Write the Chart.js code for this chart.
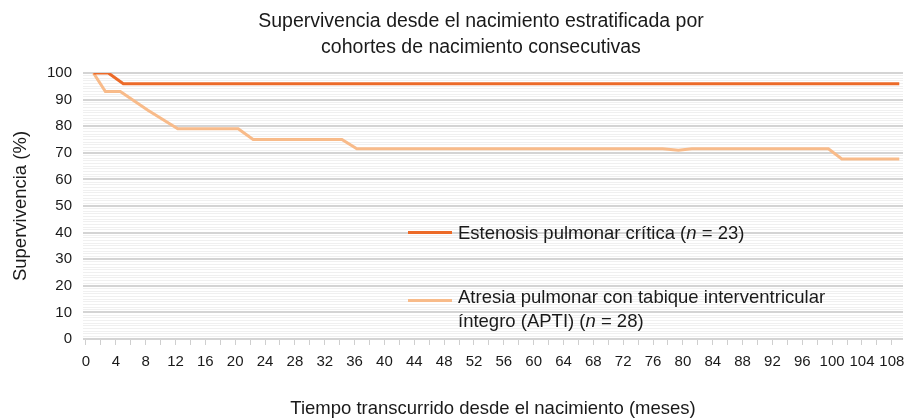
<!DOCTYPE html>
<html>
<head>
<meta charset="utf-8">
<script src="https://cdn.jsdelivr.net/npm/chart.js@4/dist/chart.umd.min.js"></script>
<style>
  html, body { margin: 0; padding: 0; background: #ffffff; }
  #wrap { position: relative; width: 906px; height: 420px; font-family: "Liberation Sans", Arial, Helvetica, sans-serif; color: #1a1a1a; }
  #chart { position: absolute; left: 0; top: 0; }
  #title { position: absolute; left: 181px; width: 600px; top: 7px; text-align: center; font-size: 19.5px; line-height: 26px; color: #1a1a1a; white-space: nowrap; }
  #legend { position: absolute; left: 0; top: 0; width: 906px; height: 420px; pointer-events: none; }
  .item { position: absolute; left: 408px; font-size: 18.5px; line-height: 24px; color: #1a1a1a; }
  .swatch { position: absolute; left: 0; width: 44px; height: 3px; }
  .txt { position: absolute; left: 50px; white-space: nowrap; }
</style>
</head>
<body>
<div id="wrap">
  <canvas id="chart" width="906" height="420"></canvas>
  <div id="title"></div>
  <div id="legend"></div>
</div>
<script>
// ---- Data ----
const tituloLineas = ["Supervivencia desde el nacimiento estratificada por", "cohortes de nacimiento consecutivas"];
const tituloEjeX = "Tiempo transcurrido desde el nacimiento (meses)";
const tituloEjeY = "Supervivencia (%)";

const mesesEstenosis = [1, 3, 5, 109];
const supervivenciaEstenosis = [100, 100, 96, 96];

const mesesAPTI = [1, 2.6, 4.6, 8.3, 12.3, 20.4, 22.4, 34.3, 36.3, 77.3, 79.4, 81.2, 99.5, 101.3, 109];
const supervivenciaAPTI = [100, 93, 93, 86, 79, 79, 75, 75, 71.5, 71.5, 71, 71.5, 71.5, 67.7, 67.7];

const etiquetasSeries = [
  ["Estenosis pulmonar crítica (", "n", " = 23)"],
  ["Atresia pulmonar con tabique interventricular<br>íntegro (APTI) (", "n", " = 28)"]
];
const coloresSeries = ["#EC6A28", "#F8BB8A"];
const posLeyendaY = [221, 285];
const posMuestraY = [10, 14];

// ---- Title (HTML text) ----
document.getElementById('title').innerHTML = tituloLineas.join('<br>');

function toPoints(xs, ys) { return xs.map((x, i) => ({ x: x, y: ys[i] })); }

const FONT = '"Liberation Sans", Arial, Helvetica, sans-serif';

const chart = new Chart(document.getElementById('chart'), {
  type: 'line',
  data: {
    datasets: [
      { label: 'Estenosis pulmonar crítica (n = 23)', data: toPoints(mesesEstenosis, supervivenciaEstenosis), borderColor: coloresSeries[0], backgroundColor: coloresSeries[0], borderWidth: 3, pointRadius: 0, tension: 0, fill: false },
      { label: 'Atresia pulmonar con tabique interventricular íntegro (APTI) (n = 28)', data: toPoints(mesesAPTI, supervivenciaAPTI), borderColor: coloresSeries[1], backgroundColor: coloresSeries[1], borderWidth: 3, pointRadius: 0, tension: 0, fill: false }
    ]
  },
  options: {
    responsive: false,
    animation: false,
    layout: { padding: { top: 73, right: 3, left: 0, bottom: 0 } },
    plugins: { legend: { display: false }, title: { display: false }, tooltip: { enabled: false } },
    scales: {
      x: {
        type: 'linear', min: -0.4, max: 109.5,
        afterFit: s => { s.height = 81; s.paddingLeft = 0; s.paddingRight = 0; },
        border: { display: false },
        grid: { drawOnChartArea: false, drawTicks: true, tickLength: 6, color: '#cfcfcf' },
        ticks: {
          stepSize: 2, autoSkip: false, includeBounds: false, maxRotation: 0, padding: 8, color: '#1a1a1a',
          font: { family: FONT, size: 15 },
          callback: v => (v % 4 === 0 && v <= 108) ? String(v) : ''
        },
        title: { display: true, text: tituloEjeX, color: '#1a1a1a', font: { family: FONT, size: 18.5 }, padding: { top: 0, bottom: 0 } }
      },
      y: {
        min: 0, max: 100,
        afterFit: s => { s.width = 83; },
        border: { display: false },
        grid: {
          drawTicks: false,
          color: c => (c.tick && c.tick.value % 10 === 0) ? '#d4d4d4' : '#f0f0f0',
          lineWidth: c => (c.tick && c.tick.value % 10 === 0) ? 2 : 1
        },
        ticks: {
          stepSize: 1, autoSkip: false, padding: 11, color: '#1a1a1a',
          font: { family: FONT, size: 15 },
          callback: v => (v % 10 === 0) ? String(v) : ''
        },
        title: { display: true, text: tituloEjeY, color: '#1a1a1a', font: { family: FONT, size: 18.5 }, padding: { top: 10, bottom: 0 } }
      }
    }
  }
});

// ---- Legend (HTML text, built from dataset colours/labels) ----
const leg = document.getElementById('legend');
chart.data.datasets.forEach((ds, i) => {
  const it = document.createElement('div');
  it.className = 'item';
  it.style.top = posLeyendaY[i] + 'px';
  const p = etiquetasSeries[i];
  it.innerHTML = '<div class="swatch" style="top:' + posMuestraY[i] + 'px;background:' + ds.borderColor + '"></div>' +
    '<div class="txt">' + p[0] + '<i>' + p[1] + '</i>' + p[2] + '</div>';
  leg.appendChild(it);
});
</script>
</body>
</html>
